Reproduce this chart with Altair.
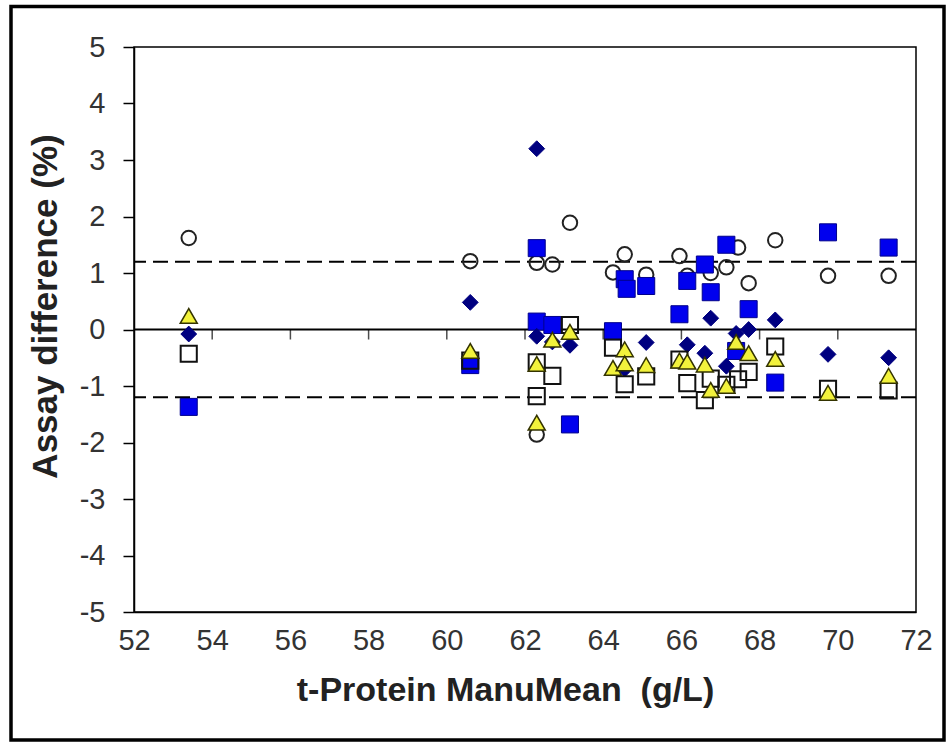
import altair as alt
import pandas as pd

# ---------------- data ----------------
x_tick_values = [52, 54, 56, 58, 60, 62, 64, 66, 68, 70, 72]
y_tick_values = [-5, -4, -3, -2, -1, 0, 1, 2, 3, 4, 5]
zero_tick_x = [54, 56, 58, 60, 62, 64, 66, 68, 70]
limit_lines = [1.2, -1.2]
zero_line = [0]

diamond_x = [53.4, 60.6, 62.3, 62.3, 62.7, 63.15, 64.55, 65.1, 66.15, 66.6, 66.75, 67.15, 67.4, 67.72, 68.4, 69.75, 71.3]
diamond_y = [-0.08, 0.48, 3.2, -0.12, -0.22, -0.28, -0.7, -0.23, -0.27, -0.42, 0.2, -0.65, -0.07, 0.0, 0.17, -0.44, -0.5]

bluesq_x = [53.4, 60.6, 62.3, 62.3, 62.7, 63.15, 64.25, 64.55, 64.6, 65.1, 65.95, 66.15, 66.6, 66.75, 67.15, 67.4, 67.72, 68.4, 69.75, 71.3]
bluesq_y = [-1.37, -0.63, 1.44, 0.14, 0.08, -1.68, -0.03, 0.89, 0.72, 0.77, 0.27, 0.86, 1.15, 0.66, 1.5, -0.38, 0.36, -0.94, 1.72, 1.45]

circle_x = [53.4, 60.6, 62.3, 62.3, 62.7, 63.15, 64.25, 64.55, 65.1, 65.95, 66.15, 66.75, 67.15, 67.45, 67.72, 68.4, 69.75, 71.3]
circle_y = [1.62, 1.21, 1.18, -1.86, 1.15, 1.89, 1.01, 1.33, 0.97, 1.3, 0.95, 1.0, 1.1, 1.45, 0.82, 1.58, 0.95, 0.95]

triangle_x = [53.4, 60.6, 62.3, 62.3, 62.7, 63.15, 64.25, 64.55, 64.55, 65.1, 65.95, 66.15, 66.6, 66.75, 67.15, 67.4, 67.72, 68.4, 69.75, 71.3]
triangle_y = [0.24, -0.38, -0.61, -1.65, -0.18, -0.04, -0.68, -0.35, -0.6, -0.63, -0.55, -0.57, -0.62, -1.07, -1.0, -0.22, -0.42, -0.52, -1.12, -0.82]

opensq_x = [53.4, 60.6, 62.3, 62.3, 62.7, 63.15, 64.25, 64.55, 65.1, 65.95, 66.15, 66.6, 66.75, 67.15, 67.45, 67.72, 68.4, 69.75, 71.3]
opensq_y = [-0.43, -0.55, -0.58, -1.18, -0.82, 0.08, -0.32, -0.97, -0.83, -0.53, -0.95, -1.25, -0.87, -0.98, -0.88, -0.75, -0.3, -1.05, -1.08]

FONT = "Liberation Sans"

xscale = alt.Scale(domain=[52, 72], nice=False, zero=False)
yscale = alt.Scale(domain=[-5, 5], nice=False, zero=False)

xaxis = alt.Axis(
    values=x_tick_values, ticks=False, grid=False, domain=True,
    domainColor="black", domainWidth=1.5,
    labelFont=FONT, labelFontSize=29, labelColor="#333333", labelPadding=14,
    labelFlush=False, labelOverlap=False,
    labelExpr="datum.value + ''",
    title="t-Protein ManuMean\u00a0\u00a0(g/L)", titleFont=FONT, titleFontSize=34,
    titleFontWeight="bold", titleColor="#222222",
    titleX=371, titleY=78, titleAnchor="middle", titleAlign="center", titleBaseline="middle",
)
yaxis = alt.Axis(
    values=y_tick_values, ticks=True, tickSize=11, tickColor="black", tickWidth=1.5,
    grid=False, domain=True, domainColor="black", domainWidth=1.5,
    labelFont=FONT, labelFontSize=29, labelColor="#333333", labelPadding=18,
    labelFlush=False, labelOverlap=False,
    labelExpr="datum.value + ''",
    title="Assay difference (%)", titleFont=FONT, titleFontSize=35,
    titleFontWeight="bold", titleColor="#222222", titleAngle=-90,
    titleX=-89, titleY=259, titleAlign="center", titleBaseline="middle",
)


def enc_x():
    return alt.X("x:Q", scale=xscale, axis=xaxis)


def enc_y():
    return alt.Y("y:Q", scale=yscale, axis=yaxis)


def pts(xs, ys):
    return pd.DataFrame({"x": xs, "y": ys})


zero_rule = alt.Chart(pd.DataFrame({"y": zero_line})).mark_rule(
    color="black", strokeWidth=1.8
).encode(y=enc_y())

limit_rules = alt.Chart(pd.DataFrame({"y": limit_lines})).mark_rule(
    color="black", strokeWidth=2, strokeDash=[15, 7]
).encode(y=enc_y())

zero_ticks = alt.Chart(pd.DataFrame({"x": zero_tick_x, "y": [0] * len(zero_tick_x)})).mark_tick(
    orient="vertical", size=10, thickness=1.5, yOffset=5, color="black"
).encode(x=enc_x(), y=enc_y())

circles = alt.Chart(pts(circle_x, circle_y)).mark_point(
    shape="circle", filled=False, size=210, stroke="#222222", strokeWidth=2, opacity=1
).encode(x=enc_x(), y=enc_y())

bluesq = alt.Chart(pts(bluesq_x, bluesq_y)).mark_point(
    shape="square", filled=True, size=290, fill="#0000EE", stroke="#00008B",
    strokeWidth=1, opacity=1
).encode(x=enc_x(), y=enc_y())

diamonds = alt.Chart(pts(diamond_x, diamond_y)).mark_point(
    shape="diamond", filled=True, size=250, fill="#000080", stroke="#000080",
    strokeWidth=1, opacity=1
).encode(x=enc_x(), y=enc_y())

opensq = alt.Chart(pts(opensq_x, opensq_y)).mark_point(
    shape="square", filled=False, size=260, stroke="#111111", strokeWidth=2, opacity=1
).encode(x=enc_x(), y=enc_y())

triangles = alt.Chart(pts(triangle_x, triangle_y)).mark_point(
    shape="triangle-up", filled=True, size=290, fill="#F2F23C", stroke="#333300",
    strokeWidth=1.5, opacity=1
).encode(x=enc_x(), y=enc_y())

frame = alt.Chart(pd.DataFrame({"a": [0]})).mark_rect(
    fillOpacity=0, stroke="black", strokeWidth=3.5, clip=False
).encode(
    x=alt.value(-123), x2=alt.value(810), y=alt.value(-40.5), y2=alt.value(693)
)

chart = alt.layer(
    limit_rules, zero_rule, zero_ticks, circles, bluesq, diamonds, opensq, triangles, frame
).properties(
    width=782, height=565,
    autosize=alt.AutoSizeParams(type="none"),
    padding={"left": 134, "top": 47, "right": 34, "bottom": 133},
    background="white",
).configure_view(
    stroke="black", strokeWidth=1.5
)

chart.save("out.html", embed_options={"renderer": "svg", "actions": False})
